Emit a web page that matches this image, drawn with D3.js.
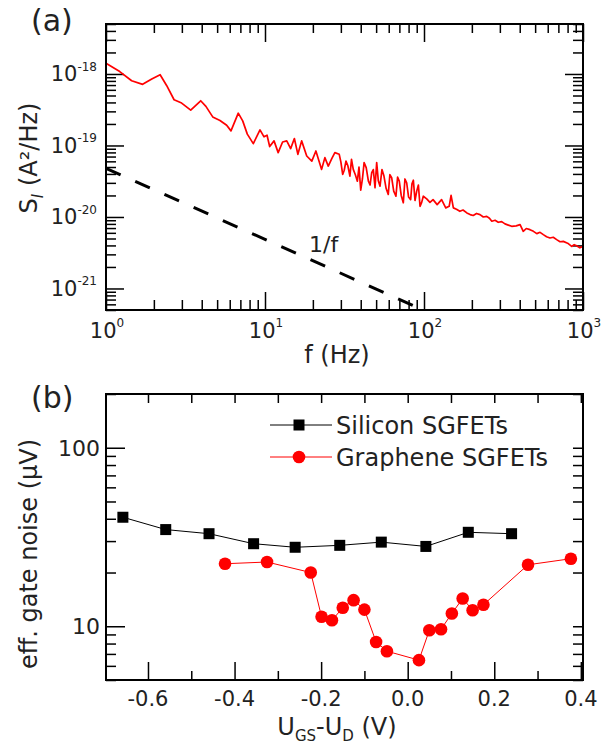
<!DOCTYPE html>
<html>
<head>
<meta charset="utf-8">
<script src="https://cdn.jsdelivr.net/npm/d3@7"></script>
<style>
  body { margin: 0; background: #fff; }
  svg text { font-family: "DejaVu Sans", sans-serif; fill: #222; }
</style>
</head>
<body>
<svg id="chart" width="616" height="750"></svg>
<script>
// panel (a): noise spectrum
const specF = [1, 1.22, 1.45, 1.70, 1.94, 2.19, 2.41, 2.68, 2.99, 3.41,
  3.94, 4.25, 4.69, 5.21, 5.74, 6.11, 6.79, 7.24, 7.74, 8.44,
  9.30, 9.86, 10.3, 10.7, 11.4, 12.1, 12.9, 13.7, 14.5, 15.3,
  16.1, 17.0, 18.3, 19.7, 20.9, 22.7, 23.8, 25.0, 26.3, 27.5,
  29.3, 30.0, 30.8, 31.5, 32.3, 33.2, 34.2, 35.0, 35.9, 37.0,
  38.1, 39.0, 40.0, 41.0, 42.0, 43.3, 44.7, 45.8, 46.9, 48.0,
  49.2, 50.4, 51.6, 52.9, 54.4, 56.0, 57.8, 59.6, 61.0, 62.6,
  64.5, 66.6, 68.2, 69.9, 71.9, 74.1, 75.9, 77.8, 80.0, 82.4,
  84.0, 85.7, 87.8, 90.0, 92.2, 94.4, 96.7, 99.0, 104, 109,
  114, 121, 129, 137, 144, 148, 153, 160, 168, 176,
  186, 195, 204, 214, 225, 236, 248, 258, 267, 280,
  293, 308, 323, 339, 356, 380, 402, 421, 440, 464,
  488, 512, 537, 563, 590, 620, 650, 683, 717, 752,
  800, 849, 880, 912, 955, 995];
const specS = [1.41e-18, 1.08e-18, 8.05e-19, 7.16e-19, 8.51e-19, 9.77e-19, 6.85e-19, 4.36e-19, 3.92e-19, 3.12e-19,
  4.22e-19, 3.52e-19, 2.51e-19, 2.24e-19, 1.92e-19, 1.60e-19, 2.83e-19, 2.21e-19, 1.44e-19, 1.06e-19,
  1.65e-19, 1.32e-19, 1.39e-19, 9.66e-20, 1.16e-19, 7.94e-20, 1.12e-19, 1.16e-19, 9.04e-20, 1.25e-19,
  7.52e-20, 1.16e-19, 7.13e-20, 6.05e-20, 8.37e-20, 4.63e-20, 6.76e-20, 5.15e-20, 6.55e-20, 7.94e-20,
  7.52e-20, 5.9e-20, 3.94e-20, 4.5e-20, 6.05e-20, 5.2e-20, 3.73e-20, 6.4e-20, 4.63e-20, 3.9e-20,
  3.17e-20, 5.0e-20, 2.37e-20, 3.4e-20, 5.75e-20, 4.9e-20, 3.17e-20, 2.8e-20, 4.16e-20, 4.6e-20,
  2.56e-20, 5.75e-20, 3.2e-20, 2.70e-20, 4.6e-20, 3.73e-20, 2.5e-20, 2.07e-20, 3.9e-20, 3.54e-20,
  2.3e-20, 1.95e-20, 3.6e-20, 3.17e-20, 2.0e-20, 1.58e-20, 3.4e-20, 3.01e-20, 1.9e-20, 1.75e-20,
  2.9e-20, 3.27e-20, 1.7e-20, 2.30e-20, 2.8e-20, 1.41e-20, 1.6e-20, 1.95e-20, 1.79e-20, 1.6e-20,
  1.75e-20, 1.49e-20, 1.75e-20, 1.34e-20, 1.41e-20, 2.00e-20, 1.34e-20, 1.28e-20, 1.20e-20, 1.25e-20,
  1.14e-20, 1.08e-20, 1.05e-20, 1.12e-20, 1.08e-20, 1.0e-20, 1.02e-20, 9.6e-21, 8.71e-21, 9.0e-21,
  8.43e-21, 8.6e-21, 8.00e-21, 7.7e-21, 7.40e-21, 7.5e-21, 7.82e-21, 6.30e-21, 6.9e-21, 6.65e-21,
  6.3e-21, 5.85e-21, 6.1e-21, 5.66e-21, 5.3e-21, 5.08e-21, 5.2e-21, 4.82e-21, 4.5e-21, 4.56e-21,
  4.3e-21, 3.87e-21, 4.1e-21, 3.96e-21, 3.7e-21, 3.87e-21];
const slopeF = [1, 88];
const slopeS = [4.8e-20, 5.6e-22];
const aXTicks = [1, 10, 100, 1000];
const aXExp = ["0", "1", "2", "3"];
const aYTicks = [1e-18, 1e-19, 1e-20, 1e-21];
const aYExp = ["-18", "-19", "-20", "-21"];

// panel (b): effective gate noise
const siX = [-0.658, -0.559, -0.459, -0.356, -0.260, -0.157, -0.061, 0.042, 0.140, 0.240];
const siY = [40.8, 34.8, 33.0, 29.0, 27.7, 28.4, 29.6, 28.0, 33.6, 33.0];
const grX = [-0.422, -0.325, -0.224, -0.199, -0.175, -0.150, -0.125, -0.100, -0.073, -0.048,
  0.026, 0.050, 0.077, 0.102, 0.127, 0.150, 0.175, 0.278, 0.377];
const grY = [22.4, 22.9, 20.0, 11.3, 10.8, 12.7, 14.0, 12.4, 8.17, 7.25,
  6.46, 9.50, 9.62, 11.8, 14.3, 12.3, 13.2, 22.1, 23.9];
const legendNames = ["Silicon SGFETs", "Graphene SGFETs"];
const bXTicks = [-0.6, -0.4, -0.2, 0.0, 0.2, 0.4];
const bXMinor = [-0.5, -0.3, -0.1, 0.1, 0.3];
const bYTicks = [10, 100];

const svg = d3.select("#chart");
const RED = "#ff0000";

// ---------- panel (a) ----------
const xA = d3.scaleLog().domain([1, 1000]).range([106, 583]);
const yA = d3.scaleLog().domain([5e-22, 5e-18]).range([310, 24]);

const minorA_x = xA.ticks().filter(v => !aXTicks.includes(v));
const minorA_y = yA.ticks().filter(v => !aYTicks.some(t => Math.abs(t - v) / t < 1e-6));

function tickAxis(g, axis) {
  g.call(axis);
  g.select(".domain").remove();
  g.selectAll("line").attr("stroke", "#000").attr("stroke-width", 1.5);
  g.selectAll("text").remove();
}

const pa = svg.append("g");
// left
tickAxis(pa.append("g").attr("transform", "translate(106,0)"), d3.axisLeft(yA).tickValues(aYTicks).tickSize(-18));
tickAxis(pa.append("g").attr("transform", "translate(106,0)"), d3.axisLeft(yA).tickValues(minorA_y).tickSize(-10));
// right
tickAxis(pa.append("g").attr("transform", "translate(583,0)"), d3.axisRight(yA).tickValues(aYTicks).tickSize(-18));
tickAxis(pa.append("g").attr("transform", "translate(583,0)"), d3.axisRight(yA).tickValues(minorA_y).tickSize(-10));
// bottom
tickAxis(pa.append("g").attr("transform", "translate(0,310)"), d3.axisBottom(xA).tickValues(aXTicks).tickSize(-18));
tickAxis(pa.append("g").attr("transform", "translate(0,310)"), d3.axisBottom(xA).tickValues(minorA_x).tickSize(-10));
// top
tickAxis(pa.append("g").attr("transform", "translate(0,24)"), d3.axisTop(xA).tickValues(aXTicks).tickSize(-18));
tickAxis(pa.append("g").attr("transform", "translate(0,24)"), d3.axisTop(xA).tickValues(minorA_x).tickSize(-9));

// spectrum
const specLine = d3.line().x(d => xA(d[0])).y(d => yA(d[1]));
pa.append("path")
  .datum(specF.map((f, i) => [f, specS[i]]))
  .attr("d", specLine)
  .attr("fill", "none").attr("stroke", RED).attr("stroke-width", 1.7)
  .attr("stroke-linejoin", "round");

// 1/f guide
pa.append("path")
  .datum(slopeF.map((f, i) => [f, slopeS[i]]))
  .attr("d", specLine)
  .attr("fill", "none").attr("stroke", "#000").attr("stroke-width", 3)
  .attr("stroke-dasharray", "16,16");

pa.append("text").attr("x", 309).attr("y", 252).attr("font-size", 22).text("1/f");

pa.append("rect").attr("x", 106).attr("y", 24).attr("width", 477).attr("height", 286)
  .attr("fill", "none").attr("stroke", "#000").attr("stroke-width", 2);

// tick labels
aYTicks.forEach((v, i) => {
  const t = pa.append("text").attr("x", 97).attr("y", yA(v) + 7.5)
    .attr("text-anchor", "end").attr("font-size", 21);
  t.append("tspan").text("10");
  t.append("tspan").attr("font-size", 12).attr("dy", -10.5).text(aYExp[i]);
});
aXTicks.forEach((v, i) => {
  const t = pa.append("text").attr("x", xA(v) + 1).attr("y", 338)
    .attr("text-anchor", "middle").attr("font-size", 21);
  t.append("tspan").text("10");
  t.append("tspan").attr("font-size", 12).attr("dy", -11).text(aXExp[i]);
});

pa.append("text").attr("x", 337).attr("y", 363).attr("text-anchor", "middle")
  .attr("font-size", 24).text("f (Hz)");

const yla = pa.append("text").attr("transform", "translate(37,158) rotate(-90)")
  .attr("text-anchor", "middle").attr("font-size", 24);
yla.append("tspan").text("S");
yla.append("tspan").attr("font-size", 15).attr("font-style", "italic").attr("dy", 6).text("I");
yla.append("tspan").attr("dy", -6).text(" (A\u00b2/Hz)");

svg.append("text").attr("x", 31).attr("y", 31).attr("font-size", 30).text("(a)");

// ---------- panel (b) ----------
const xB = d3.scaleLinear().domain([-0.697, 0.405]).range([106, 583]);
const yB = d3.scaleLog().domain([5, 200]).range([680, 394]);
const minorB_y = yB.ticks().filter(v => !bYTicks.includes(v));

const pb = svg.append("g");
tickAxis(pb.append("g").attr("transform", "translate(106,0)"), d3.axisLeft(yB).tickValues(bYTicks).tickSize(-19));
tickAxis(pb.append("g").attr("transform", "translate(106,0)"), d3.axisLeft(yB).tickValues(minorB_y).tickSize(-10));
tickAxis(pb.append("g").attr("transform", "translate(583,0)"), d3.axisRight(yB).tickValues(bYTicks.concat(minorB_y)).tickSize(-10));
tickAxis(pb.append("g").attr("transform", "translate(0,680)"), d3.axisBottom(xB).tickValues(bXTicks).tickSize(-18));
tickAxis(pb.append("g").attr("transform", "translate(0,680)"), d3.axisBottom(xB).tickValues(bXMinor).tickSize(-9));
tickAxis(pb.append("g").attr("transform", "translate(0,394)"), d3.axisTop(xB).tickValues(bXTicks.concat(bXMinor)).tickSize(-9));

const lineB = d3.line().x(d => xB(d[0])).y(d => yB(d[1]));
const siData = siX.map((x, i) => [x, siY[i]]);
const grData = grX.map((x, i) => [x, grY[i]]);

pb.append("path").datum(siData).attr("d", lineB)
  .attr("fill", "none").attr("stroke", "#000").attr("stroke-width", 1);
pb.append("path").datum(grData).attr("d", lineB)
  .attr("fill", "none").attr("stroke", RED).attr("stroke-width", 1);

pb.selectAll(".sq").data(siData).enter().append("rect")
  .attr("x", d => xB(d[0]) - 5.5).attr("y", d => yB(d[1]) - 5.5)
  .attr("width", 11).attr("height", 11).attr("fill", "#000");
pb.selectAll(".dot").data(grData).enter().append("circle")
  .attr("cx", d => xB(d[0])).attr("cy", d => yB(d[1])).attr("r", 6.3).attr("fill", RED);

pb.append("rect").attr("x", 106).attr("y", 394).attr("width", 477).attr("height", 286)
  .attr("fill", "none").attr("stroke", "#000").attr("stroke-width", 2);

// legend
const legY = [425, 457];
const legColor = ["#000", RED];
legendNames.forEach((name, i) => {
  pb.append("line").attr("x1", 270).attr("x2", 332).attr("y1", legY[i]).attr("y2", legY[i])
    .attr("stroke", legColor[i]).attr("stroke-width", 1);
  if (i === 0) {
    pb.append("rect").attr("x", 299 - 5.5).attr("y", legY[i] - 5.5).attr("width", 11).attr("height", 11).attr("fill", "#000");
  } else {
    pb.append("circle").attr("cx", 299).attr("cy", legY[i]).attr("r", 6.3).attr("fill", RED);
  }
  pb.append("text").attr("x", 336).attr("y", legY[i] + 8.5).attr("font-size", 24).text(name);
});

// tick labels
bXTicks.forEach(v => {
  pb.append("text").attr("x", xB(v)).attr("y", 706).attr("text-anchor", "middle")
    .attr("font-size", 21).text(v.toFixed(1));
});
bYTicks.forEach(v => {
  pb.append("text").attr("x", 100).attr("y", yB(v) + 8).attr("text-anchor", "end")
    .attr("font-size", 22).text(v);
});

const xlb = pb.append("text").attr("x", 337).attr("y", 735).attr("text-anchor", "middle").attr("font-size", 24);
xlb.append("tspan").text("U");
xlb.append("tspan").attr("font-size", 15).attr("dy", 6).text("GS");
xlb.append("tspan").attr("dy", -6).text("-U");
xlb.append("tspan").attr("font-size", 15).attr("dy", 6).text("D");
xlb.append("tspan").attr("dy", -6).text(" (V)");

pb.append("text").attr("transform", "translate(37,554) rotate(-90)")
  .attr("text-anchor", "middle").attr("font-size", 24).text("eff. gate noise (\u03bcV)");

svg.append("text").attr("x", 31).attr("y", 408).attr("font-size", 30).text("(b)");
</script>
</body>
</html>
